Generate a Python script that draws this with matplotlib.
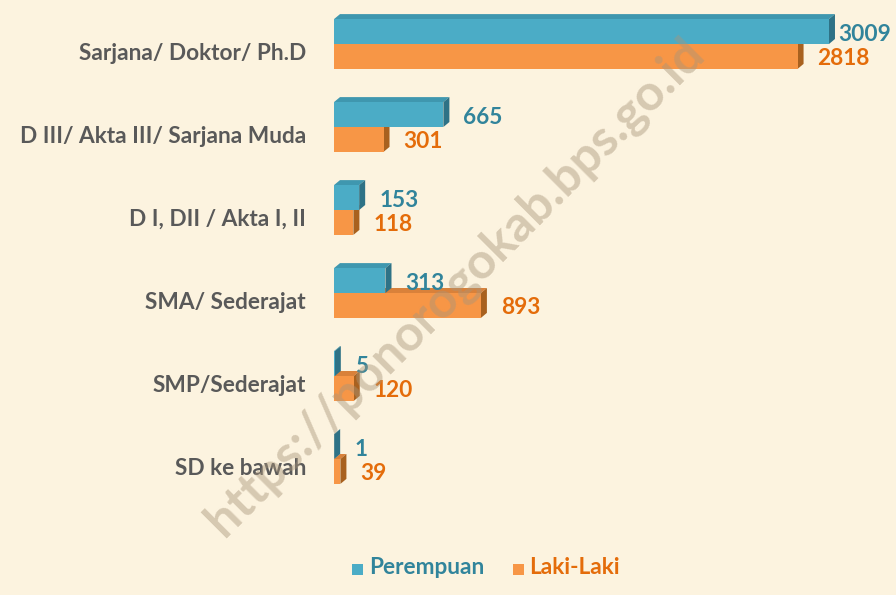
import matplotlib
matplotlib.use("Agg")
import matplotlib.pyplot as plt
from matplotlib.patches import Polygon, Rectangle

categories = ["Sarjana/ Doktor/ Ph.D", "D III/ Akta III/ Sarjana Muda",
              "D I, DII / Akta I, II", "SMA/ Sederajat", "SMP/Sederajat", "SD ke bawah"]
perempuan = [3009, 665, 153, 313, 5, 1]
laki_laki = [2818, 301, 118, 893, 120, 39]
series_names = ["Perempuan", "Laki-Laki"]

W, H = 896, 595
fig = plt.figure(figsize=(W / 100, H / 100), dpi=100)
fig.patch.set_facecolor("#FCF3DF")

FS = 16.3
FONT = "Lato"

# axes in pixel coordinates
ax_left, ax_right, ax_top, ax_bot = 334, 896, 0, 520
ax = fig.add_axes([ax_left / W, 1 - ax_bot / H, (ax_right - ax_left) / W, (ax_bot - ax_top) / H])
ax.set_facecolor("none")
px_per_unit = 0.1645
xmax = (ax_right - ax_left) / px_per_unit
ax.set_xlim(0, xmax)
ypx_per_unit = 83.0
ytop = -44 / ypx_per_unit
ybot = (520 - 44) / ypx_per_unit
ax.set_ylim(ybot, ytop)
ax.axis("off")

bh = 0.30
dx = 6 / px_per_unit
dy = 5 / ypx_per_unit

blue_front, blue_top, blue_side = "#4BACC6", "#3F97AF", "#2E7286"
orng_front, orng_top, orng_side = "#F79646", "#D9813A", "#A8611F"
blue_txt, orng_txt = "#31849B", "#E46C0A"


def bar3d(y0, v, front, top, side):
    y1 = y0 + bh
    ax.add_patch(Polygon([(0, y0), (v, y0), (v + dx, y0 - dy), (dx, y0 - dy)],
                         closed=True, facecolor=top, edgecolor="none", zorder=2))
    ax.add_patch(Polygon([(v, y0), (v + dx, y0 - dy), (v + dx, y1 - dy), (v, y1)],
                         closed=True, facecolor=side, edgecolor="none", zorder=2))
    ax.add_patch(Rectangle((0, y0), v, bh, facecolor=front, edgecolor="none", zorder=3))


gap_units = 20 / px_per_unit
for i, (p, l) in enumerate(zip(perempuan, laki_laki)):
    bar3d(i, l, orng_front, orng_top, orng_side)
    bar3d(i - bh, p, blue_front, blue_top, blue_side)
    for v, yc, col in ((p, i - bh / 2, blue_txt), (l, i + bh / 2, orng_txt)):
        xt = v + gap_units
        if (xt * px_per_unit + ax_left) > W - 70:
            xt = v + 9 / px_per_unit
        ax.text(xt, yc + 0.03, str(v), color=col, fontsize=FS, fontweight="bold",
                family=FONT, ha="left", va="center", zorder=5)
    ax.text(-28 / px_per_unit, i + 0.11, categories[i], color="#595959", fontsize=FS,
            fontweight="bold", family=FONT, ha="right", va="center", clip_on=False)

# legend
fig.patches.append(Rectangle((352 / W, 1 - 575 / H), 11 / W, 11 / H, transform=fig.transFigure,
                             facecolor=blue_front, edgecolor="none"))
fig.text(369 / W, 1 - 568 / H, series_names[0], color=blue_txt, fontsize=FS, fontweight="bold",
         family=FONT, ha="left", va="center")
fig.patches.append(Rectangle((513 / W, 1 - 575 / H), 11 / W, 11 / H, transform=fig.transFigure,
                             facecolor=orng_front, edgecolor="none"))
fig.text(529 / W, 1 - 568 / H, series_names[1], color=orng_txt, fontsize=FS, fontweight="bold",
         family=FONT, ha="left", va="center")

# watermark
fig.text(455 / W, 1 - 287 / H, "https://ponorogokab.bps.go.id", color="#A8957A", alpha=0.45,
         fontsize=36, fontweight="bold", family=FONT, rotation=45, ha="center", va="center",
         zorder=10)

fig.savefig("out.png", dpi=100, facecolor=fig.get_facecolor())
